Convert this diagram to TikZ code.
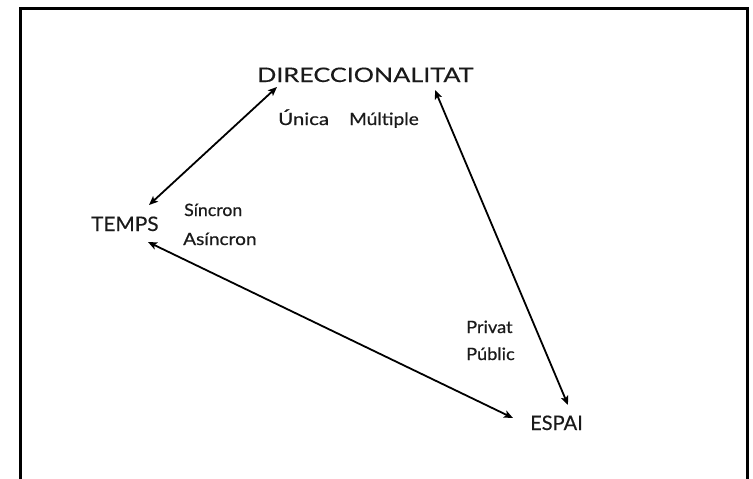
\documentclass[tikz,border=0pt]{standalone}
\usepackage{fontspec}
\setmainfont{Lato}
\newfontfamily\labelfont{Lato}[FakeBold=0.6]
\newfontfamily\titlefont{Lato}[FakeBold=0.3]
\usetikzlibrary{arrows.meta,calc}
\definecolor{ink}{HTML}{1A1A1A}
\newcommand{\wx}[2]{\scalebox{#1}[1]{#2}}
\tikzset{
  big/.style={inner sep=0pt,anchor=base west,text=ink,font=\titlefont\fontsize{20}{24}\selectfont},
  small/.style={inner sep=0pt,anchor=base west,text=ink,font=\labelfont\fontsize{17}{20}\selectfont},
  link/.style={line width=1.8pt,{Stealth[length=9pt,width=7.5pt,inset=2pt]}-{Stealth[length=9pt,width=7.5pt,inset=2pt]}},
  frame/.style={line width=3pt}
}
\begin{document}
\begin{tikzpicture}[x=1pt,y=-1pt]
\useasboundingbox (0,0) rectangle (753,479);
\draw[frame] (20,485) -- (20,8) -- (747,8) -- (747,485);
\node[big] (dir) at (257,82) {\wx{1.26}{DIRECCIONALITAT}};
\node[small] (unica) at (278,125) {\wx{1.2}{Única}};
\node[small] (multiple) at (349,125) {\wx{1.12}{Múltiple}};
\node[big] (temps) at (91,231) {\wx{1.04}{TEMPS}};
\node[small] (sincron) at (184,216) {\wx{1.04}{Síncron}};
\node[small] (asincron) at (183,245) {\wx{1.12}{Asíncron}};
\node[small] (privat) at (466,333) {\wx{1.07}{Privat}};
\node[small] (public) at (466,360) {\wx{1.07}{Públic}};
\node[big] (espai) at (530,430) {ESPAI};
\draw[link] ($(dir.base west)+(20,5)$) -- ($(temps.base west)+(58,-26)$);
\draw[link] ($(dir.base west)+(178,8)$) -- ($(espai.base west)+(38,-25)$);
\draw[link] ($(temps.base west)+(57,11)$) -- ($(espai.base west)+(-17,-12)$);
\end{tikzpicture}
\end{document}
